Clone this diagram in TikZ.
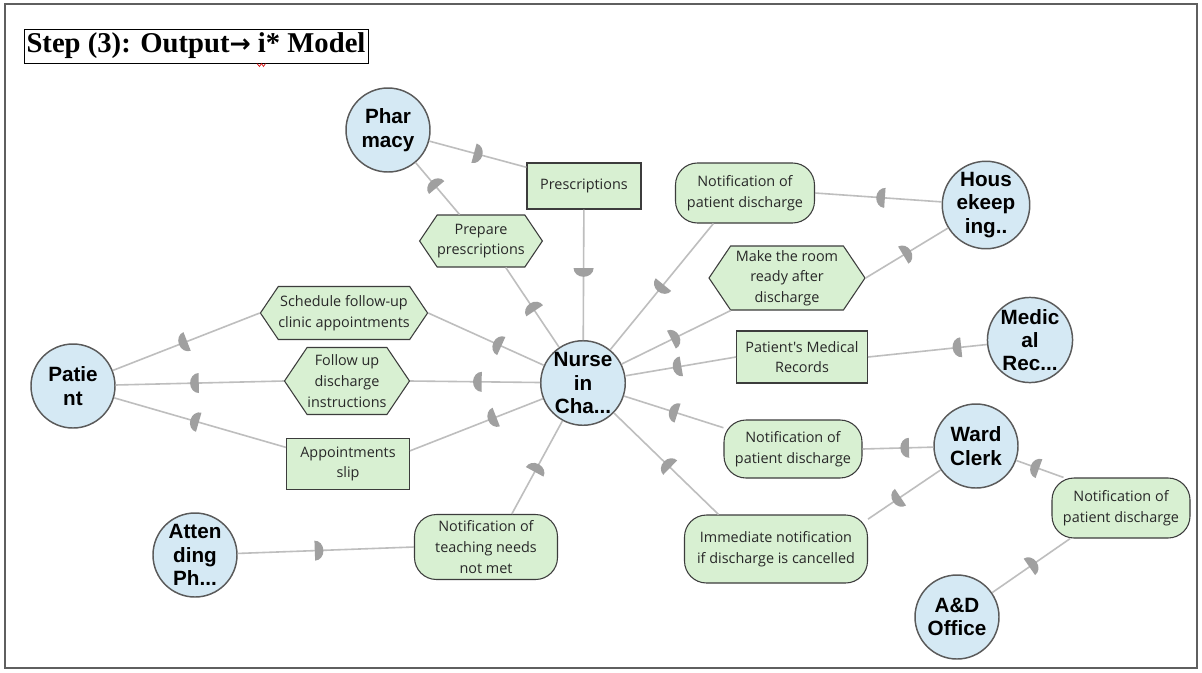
\documentclass[tikz,border=0pt]{standalone}
\usepackage{fontspec}
\setmainfont{Liberation Serif}
\newfontfamily\lblfont{Open Sans}
\newfontfamily\actfont{Liberation Sans}
\newfontfamily\arrowfont{DejaVu Sans}
\usetikzlibrary{shapes.symbols,decorations.markings}

\definecolor{actorfill}{RGB}{213,233,244}
\definecolor{actorline}{RGB}{90,90,90}
\definecolor{greenfill}{RGB}{216,240,210}
\definecolor{boxline}{RGB}{60,60,60}
\definecolor{linegray}{RGB}{190,190,190}
\definecolor{markgray}{RGB}{160,160,160}
\definecolor{framegray}{RGB}{95,95,95}
\definecolor{labeltext}{RGB}{40,40,40}

\tikzset{
  actor/.style={circle, draw=actorline, line width=1.1pt, fill=actorfill,
    minimum size=63pt, inner sep=0pt, align=center,
    font=\actfont\bfseries\fontsize{15.5}{17.5}\selectfont},
  goal/.style={rectangle, rounded corners=16.5pt, draw=boxline, line width=0.8pt,
    fill=greenfill, inner sep=0pt, align=center, text=labeltext,
    font=\lblfont\fontsize{10.8}{15.5}\selectfont},
  res/.style={rectangle, draw=boxline, line width=0.8pt, fill=greenfill,
    inner sep=0pt, align=center, text=labeltext,
    font=\lblfont\fontsize{10.8}{15.5}\selectfont},
  task/.style={signal, signal to=west and east, signal pointer angle=112,
    draw=boxline, line width=0.8pt, fill=greenfill, inner sep=0pt,
    align=center, text=labeltext, font=\lblfont\fontsize{10.8}{15.5}\selectfont},
  dep/.style={draw=linegray, line width=1.2pt, postaction={decorate},
    decoration={markings, mark=at position #1 with {
      \fill[markgray] (-3pt,-7.5pt) -- (-3pt,7.5pt)
        arc[start angle=90, end angle=-90, x radius=6.5pt, y radius=7.5pt] -- cycle;}}},
  dep/.default=0.5
}

\begin{document}
\begin{tikzpicture}[x=0.75pt, y=-0.75pt]
\useasboundingbox (0,0) rectangle (1202,672);
\fill[white] (0,0) rectangle (1202,672);

% page frame and heading
\draw[framegray, line width=1.5pt] (5,4) rectangle (1197,668);
\node[draw=black, line width=0.75pt, minimum width=258pt, minimum height=25.5pt,
  inner sep=0pt, font=\bfseries\fontsize{21.5}{24}\selectfont] (title) at (196,46)
  {Step (3): Output{\arrowfont\bfseries\fontsize{19}{24}\selectfont→} i* Model};
\draw[red!85!black, line width=0.5pt] (257,63.5) -- (259.5,66.5) -- (261.5,63.5) -- (263.5,66.5) -- (265.5,63.5);

% actors
\node[actor] (pharm)   at (388,130) {Phar\\macy};
\node[actor] (patient) at (73,386)  {Patie\\nt};
\node[actor] (nurse)   at (583,383) {Nurse\\in\\Cha...};
\node[actor] (hk)      at (986,205) {Hous\\ekeep\\ing..};
\node[actor] (med)     at (1030,340) {Medic\\al\\Rec...};
\node[actor] (ward)    at (976,446) {Ward\\Clerk};
\node[actor] (ad)      at (957,617) {A\&D\\Office};
\node[actor] (att)     at (195,555) {Atten\\ding\\Ph...};

% resources
\node[res, minimum width=85.5pt, minimum height=34.5pt] (presc) at (584,186) {Prescriptions};
\node[res, minimum width=98.25pt, minimum height=39pt] (records) at (802,357) {Patient's Medical\\Records};
\node[res, minimum width=92.25pt, minimum height=38.25pt] (appt) at (348,464) {Appointments\\slip};

% goals
\node[goal, minimum width=104.25pt, minimum height=45pt] (notif1) at (745,193) {Notification of\\patient discharge};
\node[goal, minimum width=103.5pt, minimum height=43.5pt] (notif2) at (793,449) {Notification of\\patient discharge};
\node[goal, minimum width=103.5pt, minimum height=45pt] (notif3) at (1121,508) {Notification of\\patient discharge};
\node[goal, minimum width=107.25pt, minimum height=48.75pt] (teach) at (486,547) {Notification of\\teaching needs\\not met};
\node[goal, minimum width=137.25pt, minimum height=51pt] (immed) at (776,549) {Immediate notification\\if discharge is cancelled};

% tasks
\node[task, minimum width=87.75pt, minimum height=39pt] (prep) at (481,241) {Prepare\\prescriptions};
\node[task, minimum width=117pt, minimum height=48pt] (room) at (787,278) {Make the room\\ready after\\discharge};
\node[task, minimum width=106.5pt, minimum height=39.75pt] (sched) at (344,313) {Schedule follow-up\\clinic appointments};
\node[task, minimum width=93.75pt, minimum height=50.25pt] (follow) at (347,381) {Follow up\\discharge\\instructions};

% dependencies
\draw[dep=0.5]  (pharm) -- (presc.162);
\draw[dep=0.48] (presc) -- (nurse);
\draw[dep=0.5]  (nurse) -- (prep.-47);
\draw[dep=0.58] (prep.129) -- (pharm);

\draw[dep=0.4]  (nurse) -- (sched.east);
\draw[dep=0.52] (sched.west) -- (patient);
\draw[dep=0.48] (nurse) -- (follow.east);
\draw[dep=0.53] (follow.west) -- (patient);
\draw[dep=0.38] (nurse) -- (appt.12);
\draw[dep=0.53] (appt.165) -- (patient);

\draw[dep=0.48] (hk) -- (notif1.east);
\draw[dep=0.51] (notif1.224) -- (nurse);
\draw[dep=0.49] (nurse) -- (room.210);
\draw[dep=0.5]  (room.east) -- (hk);

\draw[dep=0.25] (med) -- (records.east);
\draw[dep=0.53] (records.west) -- (nurse);

\draw[dep=0.4]  (ward) -- (notif2.east);
\draw[dep=0.5]  (notif2.163) -- (nurse);
\draw[dep=0.6]  (ward) -- (immed.18);
\draw[dep=0.49] (immed.149) -- (nurse);

\draw[dep=0.52] (ad) -- (notif3.211);
\draw[dep=0.6]  (notif3.152) -- (ward);

\draw[dep=0.46] (att) -- (teach.west);
\draw[dep=0.49] (teach.52) -- (nurse);
\end{tikzpicture}
\end{document}
